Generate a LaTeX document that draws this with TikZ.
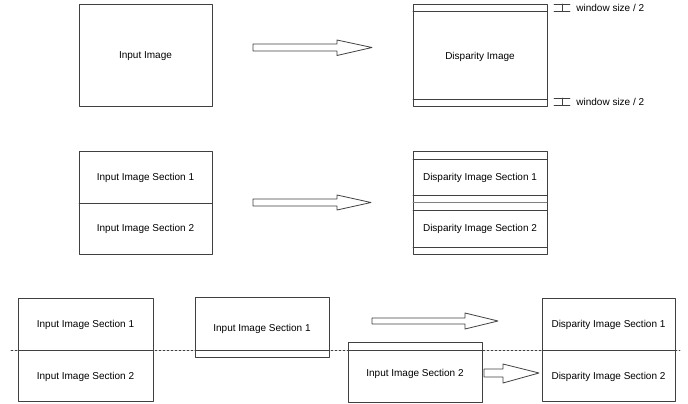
\documentclass[tikz,border=0pt]{standalone}
\usepackage{fontspec}
\setmainfont{Liberation Sans}
\begin{document}
\begin{tikzpicture}[line cap=round,line join=round,x=1pt,y=-1pt,
	every node/.style={font=\fontsize{10}{12}\selectfont,inner sep=0pt},
	line width=0.8pt,draw=black!75]
				\useasboundingbox (0,0) rectangle (688,404);
				% top row
				\draw (79,4) rectangle (212,106);
				\node (in) at (145.5,56) {Input Image};
				\draw[fill=white] (253,44)--(337,44)--(337,40)--(372,47.5)--(337,55.5)--(337,51)--(253,51)--cycle;
				\draw (413,4) rectangle (547,106);
				\draw (413,11)--(547,11);
				\draw (413,99)--(547,99);
				\node (disp) at (480,56.5) {Disparity Image};
				\draw (554,4)--(570,4) (562,4)--(562,11) (554,11)--(570,11);
				\node[anchor=west] (wtop) at (576,7.5) {window size / 2};
				\draw (554,98)--(570,98) (562,98)--(562,105) (554,105)--(570,105);
				\node[anchor=west] (wbot) at (576,101.5) {window size / 2};
				% middle row
				\draw (79,151) rectangle (212,254);
				\draw (79,203)--(212,203);
				\node (ins1) at (145.5,177.5) {Input Image Section 1};
				\node (ins2) at (145.5,229) {Input Image Section 2};
				\draw[fill=white] (253,199)--(337,199)--(337,195)--(371,202.5)--(337,210)--(337,206)--(253,206)--cycle;
				\draw (413,151) rectangle (547,254);
				\draw (413,159)--(547,159);
				\draw (413,195)--(547,195);
				\draw[black!50] (413,202.5)--(547,202.5);
				\draw (413,210)--(547,210);
				\draw (413,247)--(547,247);
				\node (ds1) at (480,177.5) {Disparity Image Section 1};
				\node (ds2) at (480,229) {Disparity Image Section 2};
				% bottom row
				\draw[dash pattern=on 2pt off 2pt] (11,350)--(680,350);
				\draw (18,298) rectangle (153,401);
				\draw (18,350)--(153,350);
				\node (bs1) at (85.5,324.5) {Input Image Section 1};
				\node (bs2) at (85.5,376.5) {Input Image Section 2};
				\draw (195,297) rectangle (329,357);
				\draw (195,350)--(329,350);
				\node (ms1) at (262,328.5) {Input Image Section 1};
				\draw (348,342) rectangle (482,402);
				\draw (348,350)--(482,350);
				\node (ms2) at (415,373.5) {Input Image Section 2};
				\draw[fill=white] (372,318)--(465,318)--(465,313)--(498,321)--(465,329)--(465,324)--(372,324)--cycle;
				\draw[fill=white] (484,369)--(503,369)--(503,364)--(539,373)--(503,383)--(503,377)--(484,377)--cycle;
				\draw (542,298) rectangle (675,401);
				\draw (542,350)--(675,350);
				\node (rs1) at (608.5,324.5) {Disparity Image Section 1};
				\node (rs2) at (608.5,376.5) {Disparity Image Section 2};
\end{tikzpicture}
\end{document}
